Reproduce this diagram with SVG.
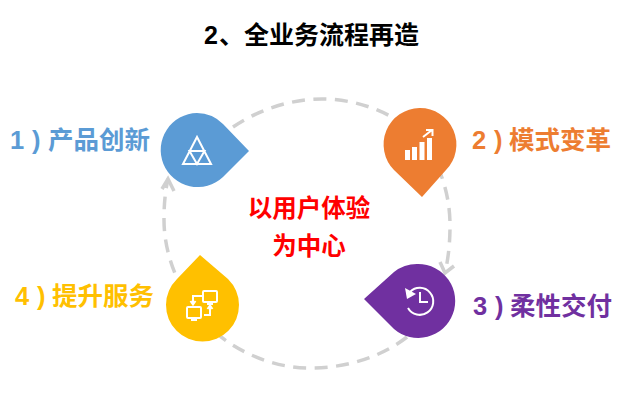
<svg xmlns="http://www.w3.org/2000/svg" width="640" height="400" viewBox="0 0 640 400">
<style>
text{font-family:"Liberation Sans","Noto Sans CJK SC",sans-serif;font-weight:700}
.l{font-size:25.500px}
.d{fill:none;stroke:#d0d0d0;stroke-width:3.500;stroke-dasharray:13 8.500}
.a{fill:none;stroke:#d0d0d0;stroke-width:3.500}
.i{fill:none;stroke:#fff;stroke-width:2}
.f{fill:#fff}
</style>
<rect width="640" height="400" fill="#fff"/>
<g id="connectors">
<path class="d" d="M233 127C258 110 290 99 322 99C358 99 395 113 420 138C437 158 450 190 450 225C450 240 449 255 445 273"/>
<path class="a" d="M440 262L445 273L454 266"/>
<path class="d" d="M407 337C380 358 345 368 310 368C280 368 252 358 228 342C195 320 164 270 164 220C164 205 165 192 168 179"/>
<path class="a" d="M162 189L168 179L174 191"/>
</g>
<text y="44" font-size="25" fill="#000"><tspan x="204">2</tspan><tspan x="219">、</tspan><tspan x="244">全业务流程再造</tspan></text>
<g id="center" fill="#f00" font-size="24.500" text-anchor="middle"><text x="309" y="217">以用户体验</text><text x="309" y="255">为中心</text></g>
<g id="node1"><path d="M197 113A37 37 0 0 1 223 124L249 151L223 177A37 37 0 1 1 197 113Z" fill="#5b9bd5"/>
<path class="i" d="M197 137L183 164H211ZM189.500 151H204.500L197 164Z" stroke-width="2.200"/>
<text class="l" y="149" fill="#5b9bd5"><tspan x="10">1</tspan><tspan x="32">)</tspan><tspan x="48">产品创新</tspan></text></g>
<g id="node2"><path d="M419.500 108A36.500 36.500 0 0 1 446 170L422 197L394 170A36.500 36.500 0 0 1 419.500 108Z" fill="#ed7d31"/>
<path class="f" d="M405 150h5v10h-5zM412 147h5v13h-5zM419.500 142h5v18h-5zM427 138h5v22h-5z"/>
<path class="i" d="M423 137L432 130M426 130H432.500V136" stroke-width="2.500"/>
<text class="l" y="149" fill="#ed7d31"><tspan x="472">2</tspan><tspan x="494">)</tspan><tspan x="509">模式变革</tspan></text></g>
<g id="node3"><path d="M418 264A37 37 0 1 1 394 329L364 299L394 272A37 37 0 0 1 418 264Z" fill="#7030a0"/>
<path class="i" d="M410 292A13.500 13.500 0 1 1 408 308M420 292V302H428" stroke-width="2.500"/>
<path class="f" d="M405 288L416 294L407 299Z"/>
<text class="l" y="315" fill="#7030a0"><tspan x="473">3</tspan><tspan x="495">)</tspan><tspan x="510">柔性交付</tspan></text></g>
<g id="node4"><path d="M200 255L228 279A36.500 36.500 0 1 1 177 279Z" fill="#ffc000"/>
<rect class="i" x="203" y="291" width="14" height="11" rx="1" stroke-width="1.300"/><rect class="i" x="187" y="307" width="14" height="11" rx="1" stroke-width="1.300"/>
<path class="i" d="M203 296H193V303M190.500 301L193 304.500L195.500 301M204 315H210V307M207.500 309L210 305.500L212.500 309M207 304H213M191 320H197" stroke-width="1.300"/>
<text class="l" y="305" fill="#ffc000"><tspan x="15">4</tspan><tspan x="37">)</tspan><tspan x="52">提升服务</tspan></text></g>
</svg>
